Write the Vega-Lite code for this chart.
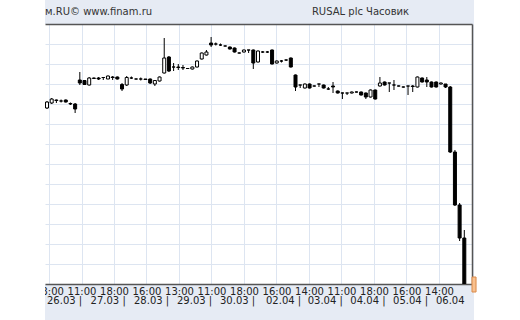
{
  "$schema": "https://vega.github.io/schema/vega-lite/v6.json",
  "width": 427,
  "height": 260,
  "autosize": {"type": "none"},
  "padding": {"left": 45, "top": 24, "right": 48, "bottom": 36},
  "background": "#e6ebf4",
  "config": {"view": {"stroke": null, "fill": "white"}, "font": "DejaVu Sans"},
  "datasets": {
    "candles": [
      {"i":0,"o":32.8,"c":33.1,"h":33.15,"l":32.75},
      {"i":1,"o":33.05,"c":33.25,"h":33.3,"l":33.0},
      {"i":2,"o":33.2,"c":33.175,"h":33.225,"l":33.05},
      {"i":3,"o":33.15,"c":33.15,"h":33.225,"l":33.075},
      {"i":4,"o":33.2,"c":33.1,"h":33.225,"l":33.075},
      {"i":5,"o":33.025,"c":33.0,"h":33.075,"l":32.95},
      {"i":6,"o":33.0,"c":32.75,"h":33.05,"l":32.55},
      {"i":7,"o":34.2,"c":34.05,"h":34.6,"l":33.95},
      {"i":8,"o":34.175,"c":33.975,"h":34.2,"l":33.95},
      {"i":9,"o":33.95,"c":34.3,"h":34.35,"l":33.925},
      {"i":10,"o":34.275,"c":34.3,"h":34.325,"l":34.25},
      {"i":11,"o":34.3,"c":34.25,"h":34.35,"l":34.2},
      {"i":12,"o":34.325,"c":34.325,"h":34.325,"l":34.2},
      {"i":13,"o":34.25,"c":34.4,"h":34.425,"l":34.25},
      {"i":14,"o":34.35,"c":34.325,"h":34.4,"l":34.2},
      {"i":15,"o":34.35,"c":34.25,"h":34.375,"l":34.225},
      {"i":16,"o":33.975,"c":33.75,"h":34.05,"l":33.65},
      {"i":17,"o":33.95,"c":34.325,"h":34.4,"l":33.9},
      {"i":18,"o":34.3,"c":34.3,"h":34.375,"l":34.25},
      {"i":19,"o":34.25,"c":34.25,"h":34.275,"l":34.225},
      {"i":20,"o":34.25,"c":34.25,"h":34.325,"l":34.175},
      {"i":21,"o":34.25,"c":34.225,"h":34.25,"l":34.2},
      {"i":22,"o":34.25,"c":34.05,"h":34.275,"l":34.0},
      {"i":23,"o":34.0,"c":34.175,"h":34.2,"l":33.9},
      {"i":24,"o":34.15,"c":34.35,"h":34.375,"l":34.125},
      {"i":25,"o":34.55,"c":35.3,"h":36.3,"l":34.525},
      {"i":26,"o":35.35,"c":34.65,"h":35.4,"l":34.6},
      {"i":27,"o":34.85,"c":34.85,"h":35.05,"l":34.65},
      {"i":28,"o":34.85,"c":34.825,"h":35.0,"l":34.7},
      {"i":29,"o":34.825,"c":34.8,"h":34.95,"l":34.7},
      {"i":30,"o":34.775,"c":34.775,"h":34.8,"l":34.75},
      {"i":31,"o":34.75,"c":34.85,"h":34.875,"l":34.725},
      {"i":32,"o":34.85,"c":35.15,"h":35.175,"l":34.825},
      {"i":33,"o":35.25,"c":35.55,"h":35.575,"l":35.225},
      {"i":34,"o":35.45,"c":35.6,"h":35.7,"l":35.425},
      {"i":35,"o":36.05,"c":35.95,"h":36.35,"l":35.85},
      {"i":36,"o":36.0,"c":36.0,"h":36.075,"l":35.925},
      {"i":37,"o":35.95,"c":35.95,"h":36.025,"l":35.9},
      {"i":38,"o":35.9,"c":35.9,"h":35.925,"l":35.875},
      {"i":39,"o":35.85,"c":35.75,"h":35.875,"l":35.725},
      {"i":40,"o":35.8,"c":35.6,"h":35.825,"l":35.575},
      {"i":41,"o":35.55,"c":35.55,"h":35.575,"l":35.525},
      {"i":42,"o":35.6,"c":35.7,"h":35.725,"l":35.575},
      {"i":43,"o":35.7,"c":35.7,"h":35.7,"l":35.55},
      {"i":44,"o":35.7,"c":35.05,"h":35.725,"l":34.75},
      {"i":45,"o":35.1,"c":35.65,"h":35.675,"l":35.075},
      {"i":46,"o":35.6,"c":35.6,"h":35.65,"l":35.55},
      {"i":47,"o":35.6,"c":35.6,"h":35.65,"l":35.55},
      {"i":48,"o":35.7,"c":35.0,"h":35.725,"l":34.975},
      {"i":49,"o":35.05,"c":35.15,"h":35.175,"l":35.025},
      {"i":50,"o":35.15,"c":35.15,"h":35.2,"l":35.075},
      {"i":51,"o":35.2,"c":35.2,"h":35.225,"l":35.15},
      {"i":52,"o":35.3,"c":34.85,"h":35.325,"l":34.825},
      {"i":53,"o":34.45,"c":33.85,"h":34.475,"l":33.65},
      {"i":54,"o":33.95,"c":33.95,"h":33.95,"l":33.8},
      {"i":55,"o":33.8,"c":34.0,"h":34.025,"l":33.775},
      {"i":56,"o":34.0,"c":33.8,"h":34.025,"l":33.775},
      {"i":57,"o":33.9,"c":33.9,"h":33.925,"l":33.875},
      {"i":58,"o":34.0,"c":34.0,"h":34.0,"l":33.85},
      {"i":59,"o":33.95,"c":33.8,"h":33.975,"l":33.775},
      {"i":60,"o":33.75,"c":33.75,"h":33.85,"l":33.7},
      {"i":61,"o":33.9,"c":33.85,"h":34.1,"l":33.55},
      {"i":62,"o":33.65,"c":33.55,"h":33.675,"l":33.525},
      {"i":63,"o":33.55,"c":33.55,"h":33.575,"l":33.25},
      {"i":64,"o":33.55,"c":33.55,"h":33.55,"l":33.45},
      {"i":65,"o":33.55,"c":33.6,"h":33.625,"l":33.525},
      {"i":66,"o":33.6,"c":33.6,"h":33.625,"l":33.575},
      {"i":67,"o":33.6,"c":33.45,"h":33.625,"l":33.425},
      {"i":68,"o":33.55,"c":33.35,"h":33.575,"l":33.25},
      {"i":69,"o":33.35,"c":33.7,"h":33.725,"l":33.325},
      {"i":70,"o":33.7,"c":33.25,"h":33.725,"l":33.225},
      {"i":71,"o":33.9,"c":34.05,"h":34.35,"l":33.875},
      {"i":72,"o":34.1,"c":33.95,"h":34.125,"l":33.925},
      {"i":73,"o":34.05,"c":34.05,"h":34.05,"l":33.6},
      {"i":74,"o":33.95,"c":33.95,"h":34.2,"l":33.7},
      {"i":75,"o":33.9,"c":33.9,"h":33.925,"l":33.875},
      {"i":76,"o":33.85,"c":33.85,"h":33.875,"l":33.825},
      {"i":77,"o":33.9,"c":33.9,"h":33.9,"l":33.45},
      {"i":78,"o":33.9,"c":33.875,"h":33.95,"l":33.6},
      {"i":79,"o":33.85,"c":34.35,"h":34.375,"l":33.825},
      {"i":80,"o":34.3,"c":34.1,"h":34.325,"l":34.075},
      {"i":81,"o":34.2,"c":34.1,"h":34.35,"l":33.85},
      {"i":82,"o":34.1,"c":33.85,"h":34.125,"l":33.825},
      {"i":83,"o":34.1,"c":33.85,"h":34.125,"l":33.825},
      {"i":84,"o":34.0,"c":34.05,"h":34.075,"l":33.975},
      {"i":85,"o":34.0,"c":33.85,"h":34.0,"l":33.8},
      {"i":86,"o":33.85,"c":30.6,"h":33.9,"l":30.55},
      {"i":87,"o":30.6,"c":27.95,"h":30.7,"l":27.9},
      {"i":88,"o":27.95,"c":26.3,"h":28.05,"l":26.15},
      {"i":89,"o":26.3,"c":23.98,"h":26.7,"l":23.9}
    ],
    "blank": [
      {"x1": -10.024, "x2": -0.427, "y1": 22.2, "y2": 38.2},
      {"x1": 91.06, "x2": 100.87, "y1": 22.2, "y2": 38.2}
    ],
    "header": [
      {"i": -0.427, "p": 37.62, "t": "м.RU©  www.finam.ru"},
      {"i": 56.5, "p": 37.62, "t": "RUSAL plc Часовик"}
    ],
    "dates": [
      {"i": 0.0, "t": "26.03 |"},
      {"i": 9.3, "t": "27.03 |"},
      {"i": 18.55, "t": "28.03 |"},
      {"i": 27.72, "t": "29.03 |"},
      {"i": 36.89, "t": "30.03 |"},
      {"i": 46.7, "t": "02.04 |"},
      {"i": 55.6, "t": "03.04 |"},
      {"i": 64.7, "t": "04.04 |"},
      {"i": 73.8, "t": "05.04 |"},
      {"i": 82.95, "t": "06.04"}
    ],
    "marker": [{"x1": 90.64, "x2": 91.5, "y1": 24.35, "y2": 23.6}]
  },
  "resolve": {"axis": {"x": "independent", "y": "independent"}},
  "layer": [
    {
      "data": {"name": "candles"},
      "mark": {"type": "rule", "color": "black", "strokeWidth": 1, "clip": true},
      "encoding": {
        "x": {"field": "i", "type": "quantitative",
          "scale": {"domain": [-0.427, 90.64], "nice": false, "zero": false, "padding": 0},
          "axis": {
          "orient": "bottom",
          "values": [0.4265, 7.3575, 14.2885, 21.2195, 28.1505, 35.0815, 42.0125, 48.9435, 55.8745, 62.8055, 69.7365, 76.6675, 83.5985],
          "labelExpr": "['13:00','11:00','18:00','16:00','13:00','11:00','18:00','16:00','14:00','11:00','18:00','16:00','14:00'][round((datum.value - 0.4265)/6.931)]",
          "grid": true, "gridColor": "#dde5f1", "gridWidth": 1,
          "domain": true, "domainColor": "#555555", "domainWidth": 1.5,
          "ticks": false, "labelFont": "DejaVu Sans", "labelFontSize": 10, "labelColor": "#222222",
          "labelPadding": 2, "labelAlign": "center", "labelDx": 7, "labelOverlap": false, "labelFlush": false, "labelBound": false, "title": null}},
        "y": {"field": "l", "type": "quantitative",
          "scale": {"domain": [24, 37], "nice": false, "zero": false, "padding": 0},
          "axis": {
          "orient": "right", "values": [25,26,27,28,29,30,31,32,33,34,35,36],
          "grid": true, "gridColor": "#dde5f1", "gridWidth": 1,
          "domain": true, "domainColor": "#555555", "domainWidth": 1.5,
          "ticks": false, "labels": false, "title": null}},
        "y2": {"field": "h"}
      }
    },
    {
      "data": {"name": "candles"},
      "mark": {"type": "bar", "size": 3, "stroke": "black", "strokeWidth": 1, "clip": true},
      "encoding": {
        "x": {"field": "i", "type": "quantitative", "axis": {
          "orient": "top", "domain": true, "domainColor": "#555555", "domainWidth": 1.5,
          "ticks": false, "labels": false, "grid": false, "title": null}},
        "y": {"field": "o", "type": "quantitative", "axis": null},
        "y2": {"field": "c"},
        "fill": {"condition": {"test": "datum.c >= datum.o", "value": "white"}, "value": "black"}
      }
    },
    {
      "data": {"name": "blank"},
      "mark": {"type": "rect", "fill": "white", "clip": false},
      "encoding": {
        "x": {"field": "x1", "type": "quantitative", "axis": null},
        "x2": {"field": "x2"},
        "y": {"field": "y1", "type": "quantitative", "axis": null},
        "y2": {"field": "y2"}
      }
    },
    {
      "data": {"name": "header"},
      "mark": {"type": "text", "align": "left", "baseline": "middle", "fontSize": 10, "font": "DejaVu Sans", "color": "#333333", "clip": false},
      "encoding": {
        "x": {"field": "i", "type": "quantitative", "axis": null},
        "y": {"field": "p", "type": "quantitative", "axis": null},
        "text": {"field": "t"}
      }
    },
    {
      "data": {"name": "dates"},
      "mark": {"type": "text", "align": "left", "baseline": "middle", "fontSize": 10, "font": "DejaVu Sans", "color": "#222222", "clip": false},
      "encoding": {
        "x": {"field": "i", "type": "quantitative", "axis": null},
        "y": {"datum": 23.175, "type": "quantitative", "axis": null},
        "text": {"field": "t"}
      }
    },
    {
      "data": {"name": "marker"},
      "mark": {"type": "rect", "fill": "#f8c08e", "stroke": "#d98a4a", "strokeWidth": 1, "clip": false},
      "encoding": {
        "x": {"field": "x1", "type": "quantitative", "axis": null},
        "x2": {"field": "x2"},
        "y": {"field": "y1", "type": "quantitative", "axis": null},
        "y2": {"field": "y2"}
      }
    }
  ]
}
